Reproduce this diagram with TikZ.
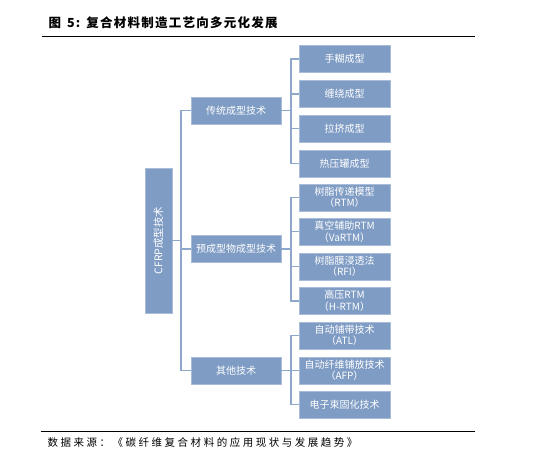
\documentclass[tikz,border=0pt]{standalone}
\usepackage{fontspec}
\setmainfont{Noto Sans CJK SC}
\newfontfamily\srcfont[LetterSpace=24]{Noto Sans CJK SC}
\newfontfamily\ttlfont[LetterSpace=10]{Noto Sans CJK SC}
\usetikzlibrary{calc}
\definecolor{boxfill}{HTML}{7F9CC4}
\definecolor{boxline}{HTML}{A9BDDA}
\definecolor{conn}{HTML}{8EA8CB}
\tikzset{
  bx/.style={draw=boxline, line width=0.7pt, fill=boxfill, text=white, inner sep=0pt, font=\fontsize{10}{11.5}\selectfont, align=center},
  leaf/.style={bx, minimum width=91pt, minimum height=27pt},
  mid/.style={bx, minimum width=90pt, minimum height=27pt},
  conline/.style={draw=conn, line width=1.1pt}
}
\begin{document}
\begin{tikzpicture}[x=1pt,y=-1pt]
\useasboundingbox (0,0) rectangle (536,464);
% title
\node[anchor=west, font=\ttlfont\fontsize{12.5}{14}\selectfont\bfseries] (title) at (45,23) {图\hspace{6pt}5:\hspace{6pt}复合材料制造工艺向多元化发展};
\coordinate (r1a) at (42,36); \coordinate (r1b) at (475,36);
\draw[line width=0.9pt] (r1a) -- (r1b);
\coordinate (r2a) at (41,431); \coordinate (r2b) at (475,431);
\draw[line width=0.9pt] (r2a) -- (r2b);
\node[anchor=west, font=\srcfont\fontsize{10.5}{12}\selectfont] (src) at (44,442) {数据来源：《碳纤维复合材料的应用现状与发展趋势》};
% root
\node[bx, minimum width=27pt, minimum height=145pt] (root) at (158.5,240.5) {};
\node[rotate=90, text=white, font=\fontsize{10.5}{12}\selectfont] (roottxt) at (root.center) {CFRP成型技术};
% middle
\node[mid] (m1) at (236,110.5) {传统成型技术};
\node[mid] (m2) at (236,249) {预成型物成型技术};
\node[mid] (m3) at (236,370.5) {其他技术};
% leaves
\node[leaf] (l1) at (344.5,59) {手糊成型};
\node[leaf] (l2) at (344.5,94) {缠绕成型};
\node[leaf] (l3) at (344.5,128.5) {拉挤成型};
\node[leaf] (l4) at (344.5,163.5) {热压罐成型};
\node[leaf] (l5) at (344.5,197.5) {树脂传递模型\\（RTM）};
\node[leaf] (l6) at (344.5,231.5) {真空辅助RTM\\（VaRTM）};
\node[leaf] (l7) at (344.5,266.5) {树脂膜浸透法\\（RFI）};
\node[leaf] (l8) at (344.5,301) {高压RTM\\（H-RTM）};
\node[leaf] (l9) at (344.5,335.5) {自动铺带技术\\（ATL）};
\node[leaf] (l10) at (344.5,370.5) {自动纤维铺放技术\\（AFP）};
\node[leaf] (l11) at (344.5,404.5) {电子束固化技术};
% connectors: trunk
\coordinate (tx) at (181,0);
\draw[conline] (m1.west) -- (m1.west -| tx) -- (m3.west -| tx) -- (m3.west);
\draw[conline] (m2.west) -- (m2.west -| tx);
\draw[conline] (root.east) -- (root.east -| tx);
% branches
\coordinate (bx) at (291,0);
\draw[conline] (m1.east) -- (m1.east -| bx);
\draw[conline] (l1.west) -- (l1.west -| bx) -- (l4.west -| bx) -- (l4.west);
\draw[conline] (l2.west) -- (l2.west -| bx);
\draw[conline] (l3.west) -- (l3.west -| bx);
\draw[conline] (m2.east) -- (m2.east -| bx);
\draw[conline] (l5.west) -- (l5.west -| bx) -- (l8.west -| bx) -- (l8.west);
\draw[conline] (l6.west) -- (l6.west -| bx);
\draw[conline] (l7.west) -- (l7.west -| bx);
\draw[conline] (m3.east) -- (m3.east -| bx);
\draw[conline] (l9.west) -- (l9.west -| bx) -- (l11.west -| bx) -- (l11.west);
\draw[conline] (l10.west) -- (l10.west -| bx);
\end{tikzpicture}
\end{document}
